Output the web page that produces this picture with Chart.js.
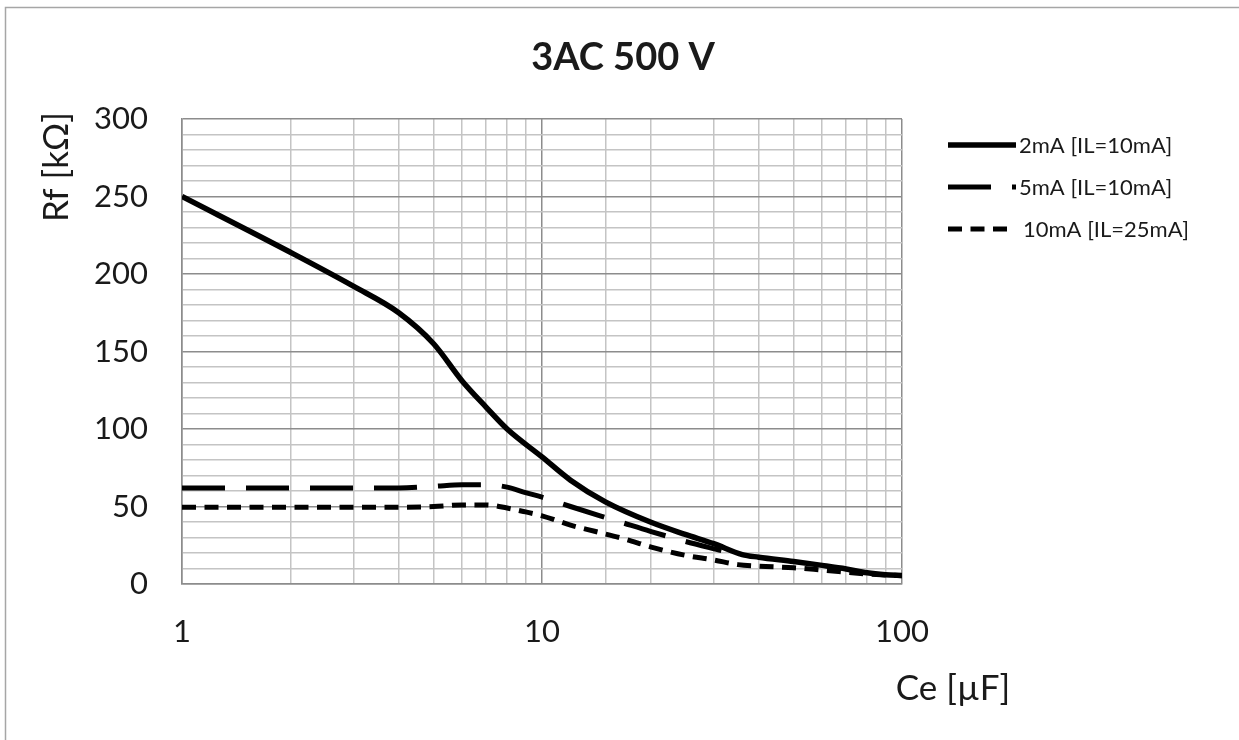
<!DOCTYPE html>
<html>
<head>
<meta charset="utf-8">
<title>3AC 500 V</title>
<script src="https://cdn.jsdelivr.net/npm/chart.js@4.4.1/dist/chart.umd.min.js"></script>
<style>
  html, body { margin: 0; padding: 0; background: #fff; }
  #wrap { position: relative; width: 1239px; height: 740px; }
</style>
</head>
<body>
<div id="wrap"><canvas id="chart" width="1239" height="740"></canvas></div>
<script>
// Rf vs Ce (log x axis).
const ce2mA = [1, 2, 3, 4, 5, 6, 7, 8, 10, 12, 15, 20, 25, 30, 36, 40, 50, 60, 70, 80, 90, 100];
const rf2mA = [250, 214, 192, 175, 155, 131, 114, 100, 82, 67, 53, 40, 32, 26, 19, 17.3, 14.5, 12, 9.7, 7.2, 6, 5.5];

const ce5mA = [1, 2, 3, 4, 5, 6, 7, 8, 9, 10, 12, 14.5, 16.5, 20, 25, 31.5];
const rf5mA = [62, 62, 62, 62, 63, 64, 64, 62.5, 59, 56, 50, 44, 40, 34, 27.5, 21.5];

const ce10mA = [1, 2, 3, 4, 5, 6, 7, 8, 9, 10, 12, 14, 17, 20, 25, 30, 35, 40, 50, 60, 80, 100];
const rf10mA = [49.5, 49.5, 49.5, 49.5, 50, 51, 51, 49, 46.5, 44, 38, 34, 29, 24, 18.5, 15.5, 12.5, 11.5, 10.5, 9, 6.5, 5.4];

const seriesLabels = ["2mA [IL=10mA]", "5mA [IL=10mA]", "10mA [IL=25mA]"];
const xTickLabels = [1, 10, 100];
const yMajorStep = 50;

const FONT = "Lato, 'Open Sans', sans-serif";
const INK = "#1a1a1a";

const pairs = (xs, ys) => xs.map((x, i) => ({ x, y: ys[i] }));
const isDecade = (v) => Math.abs(Math.log10(v) - Math.round(Math.log10(v))) < 1e-9;

// Title, axis titles, legend and frame drawn on top of the plot.
const decor = {
  id: "decor",
  beforeDraw(chart) {
    const { ctx } = chart;
    ctx.save();
    ctx.strokeStyle = "#a6a6a6";
    ctx.lineWidth = 1.5;
    ctx.beginPath();
    ctx.moveTo(5.5, 740);
    ctx.lineTo(5.5, 7.5);
    ctx.lineTo(1239, 7.5);
    ctx.stroke();
    ctx.restore();
  },
  afterDraw(chart) {
    const { ctx } = chart;
    ctx.save();
    ctx.fillStyle = INK;
    ctx.textAlign = "center";
    ctx.textBaseline = "middle";

    ctx.font = `bold 38px ${FONT}`;
    ctx.fillText("3AC 500 V", 623, 58);

    ctx.font = `35px ${FONT}`;
    ctx.fillText("Ce [\u00b5F]", 953, 689);
    ctx.save();
    ctx.translate(57, 167);
    ctx.rotate(-Math.PI / 2);
    ctx.fillText("Rf [k\u03a9]", 0, 0);
    ctx.restore();

    // legend
    ctx.font = `22px ${FONT}`;
    ctx.textAlign = "left";
    chart.data.datasets.forEach((ds, i) => {
      const y = 145 + i * 42;
      ctx.save();
      ctx.strokeStyle = ds.borderColor;
      ctx.lineWidth = ds.borderWidth;
      ctx.setLineDash(ds.borderDash || []);
      ctx.lineCap = "butt";
      ctx.beginPath();
      ctx.moveTo(948, y);
      ctx.lineTo(i === 2 ? 1010 : 1016, y);
      ctx.stroke();
      ctx.restore();
      ctx.fillText(ds.label, i === 2 ? 1023 : 1019, y + 1);
    });
    ctx.restore();
  },
};

const lineStyle = { borderColor: "#000", borderWidth: 5, pointRadius: 0, fill: false, cubicInterpolationMode: "monotone" };

new Chart(document.getElementById("chart"), {
  type: "line",
  data: {
    datasets: [
      { ...lineStyle, label: seriesLabels[0], data: pairs(ce2mA, rf2mA), borderWidth: 5.5 },
      { ...lineStyle, label: seriesLabels[1], data: pairs(ce5mA, rf5mA), borderDash: [43, 21] },
      { ...lineStyle, label: seriesLabels[2], data: pairs(ce10mA, rf10mA), borderDash: [14, 8.5] },
    ],
  },
  options: {
    responsive: false,
    animation: false,
    layout: { padding: { top: 119, right: 337, left: 0, bottom: 0 } },
    plugins: { legend: { display: false }, title: { display: false }, tooltip: { enabled: false } },
    scales: {
      x: {
        type: "logarithmic",
        min: 1,
        max: 100,
        afterFit: (s) => { s.height = 156; },
        border: { color: "#8c8c8c", width: 1.5 },
        grid: {
          drawTicks: false,
          lineWidth: 1.5,
          color: (c) => (isDecade(c.tick.value) ? "#8c8c8c" : "#c4c4c4"),
        },
        ticks: {
          autoSkip: false,
          maxRotation: 0,
          padding: 29,
          color: INK,
          font: { family: FONT, size: 31 },
          callback: (v) => (xTickLabels.includes(v) ? String(v) : ""),
        },
      },
      y: {
        min: 0,
        max: 300,
        afterFit: (s) => { s.width = 182; },
        border: { color: "#8c8c8c", width: 1.5 },
        grid: {
          drawTicks: false,
          lineWidth: 1.5,
          color: (c) => (c.tick.value % yMajorStep === 0 ? "#8c8c8c" : "#c4c4c4"),
        },
        ticks: {
          stepSize: 10,
          autoSkip: false,
          padding: 34,
          color: INK,
          font: { family: FONT, size: 31 },
          callback: (v) => (v % yMajorStep === 0 ? String(v) : ""),
        },
      },
    },
  },
  plugins: [decor],
});
</script>
</body>
</html>
